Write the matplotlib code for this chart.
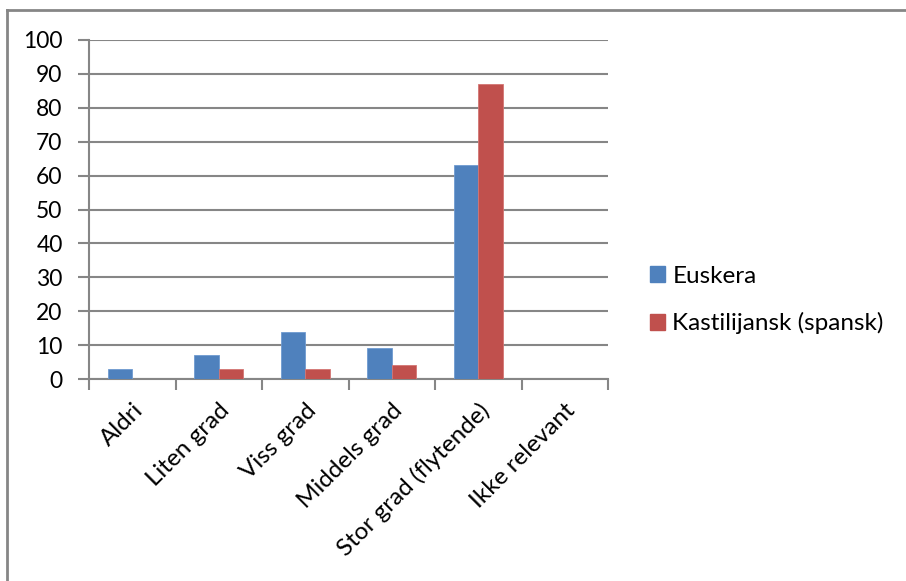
import matplotlib
matplotlib.use("Agg")
import matplotlib.pyplot as plt
from matplotlib.lines import Line2D
import numpy as np

categories = ["Aldri", "Liten grad", "Viss grad", "Middels grad",
              "Stor grad (flytende)", "Ikke relevant"]
euskera = [3, 7, 14, 9, 63, 0]
kastilijansk = [0, 3, 3, 4, 87, 0]
series_names = ["Euskera", "Kastilijansk (spansk)"]
y_ticks = list(range(0, 101, 10))

blue = "#4F81BD"
red = "#C0504D"
gray = "#868686"

plt.rcParams["font.family"] = ["Lato", "DejaVu Sans"]

W, H = 906, 581
fig = plt.figure(figsize=(W / 100, H / 100), dpi=100)
fig.patch.set_facecolor("white")

ax = fig.add_axes([89 / W, 1 - 379 / H, (608 - 89) / W, (379 - 40) / H])

x = np.arange(len(categories))
bw = 0.285
ax.bar(x - bw / 2, euskera, width=bw, color=blue, label=series_names[0],
       edgecolor="#6F9AD0", linewidth=0.6, zorder=3)
ax.bar(x + bw / 2, kastilijansk, width=bw, color=red, label=series_names[1],
       edgecolor="#D47573", linewidth=0.6, zorder=3)

ax.set_xlim(-0.5, len(categories) - 0.5)
ax.set_ylim(0, 100)
ax.set_yticks(y_ticks)
ax.set_yticklabels([str(v) for v in y_ticks], fontsize=16.5)
ax.yaxis.grid(True, color=gray, linewidth=1.5, zorder=0)
ax.set_axisbelow(True)

for side in ("top", "right"):
    ax.spines[side].set_visible(False)
for side in ("left", "bottom"):
    ax.spines[side].set_color(gray)
    ax.spines[side].set_linewidth(1.5)

ax.tick_params(axis="y", length=8, width=1.5, color=gray, pad=11)

# category labels at centres, tick marks at category boundaries
ax.set_xticks(x)
ax.set_xticklabels(categories, rotation=45, ha="right", va="top",
                   rotation_mode="anchor", fontsize=17.5)
ax.tick_params(axis="x", which="major", length=0, pad=15)
ax.set_xticks(np.arange(-0.5, len(categories)), minor=True)
ax.tick_params(axis="x", which="minor", length=8, width=1.5, color=gray)

leg = fig.legend(handles=[plt.Rectangle((0, 0), 1, 1, color=blue),
                          plt.Rectangle((0, 0), 1, 1, color=red)],
                 labels=series_names, loc="center left",
                 bbox_to_anchor=(650 / W, 1 - 300 / H), frameon=False,
                 borderpad=0, borderaxespad=0,
                 fontsize=17.5, handlelength=0.62, handleheight=0.62,
                 handletextpad=0.3, labelspacing=1.05)

# outer chart frame (left and top edges)
fig.add_artist(Line2D([7 / W, 7 / W], [0, 1 - 10 / H], color=gray,
                      linewidth=2, transform=fig.transFigure))
fig.add_artist(Line2D([7 / W, 1], [1 - 10 / H, 1 - 10 / H], color=gray,
                      linewidth=2, transform=fig.transFigure))

fig.savefig("out.png", dpi=100)
